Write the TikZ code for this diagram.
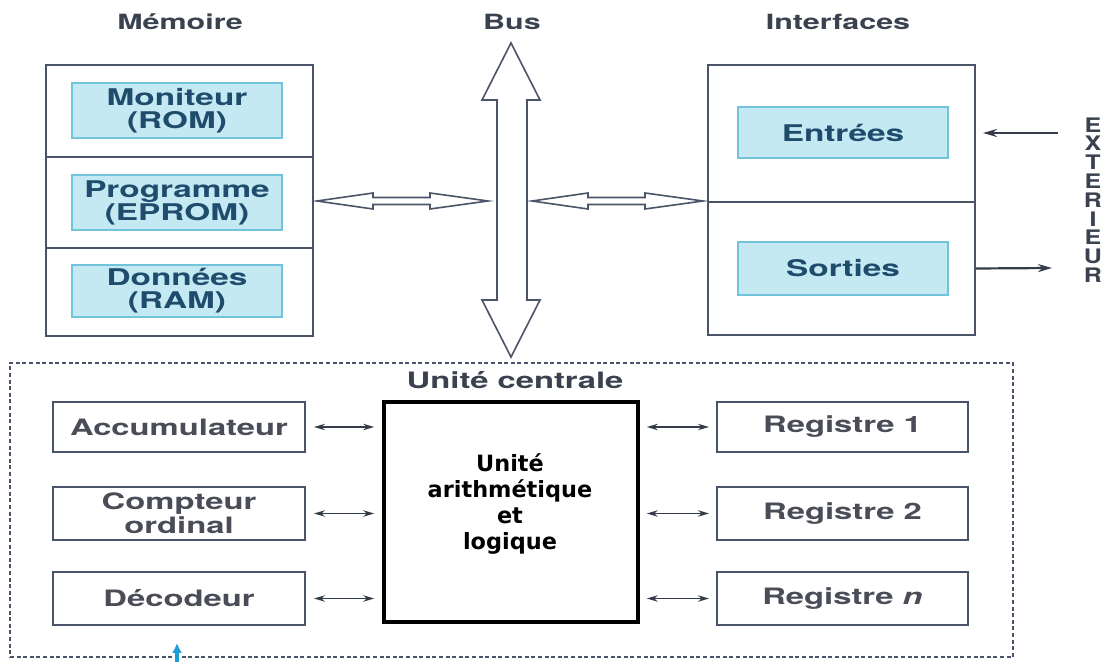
\documentclass[tikz,border=0pt]{standalone}
\usepackage{fontspec}
\usetikzlibrary{arrows.meta}
\newfontfamily\widesans[FakeStretch=1.45]{TeX Gyre Heros}
\newfontfamily\narrowsans[FakeStretch=1.25]{TeX Gyre Heros}
\newfontfamily\alufont{DejaVu Sans}
\definecolor{ink}{HTML}{4A5468}
\definecolor{labtext}{HTML}{3A4250}
\definecolor{boxtext}{HTML}{4A4C58}
\definecolor{cyanfill}{HTML}{C4E9F3}
\definecolor{cyanline}{HTML}{72C4DD}
\definecolor{cyantext}{HTML}{1F4B6C}
\definecolor{cyanarrow}{HTML}{1E9ED8}
\begin{document}
\begin{tikzpicture}[x=0.5pt,y=-0.5pt,
  frame/.style={draw=ink, line width=1pt, inner sep=0pt},
  cbox/.style={draw=cyanline, fill=cyanfill, line width=0.8pt, text=cyantext,
    font=\widesans\bfseries\fontsize{11.5}{11.5}\selectfont, align=center, inner sep=0pt},
  ubox/.style={draw=ink, line width=1pt, fill=white, text=boxtext,
    font=\widesans\bfseries\fontsize{11.3}{11.8}\selectfont, align=center, inner sep=0pt,
    minimum height=25pt},
  heading/.style={text=labtext, font=\widesans\bfseries\fontsize{10.5}{12}\selectfont},
  link/.style={draw=ink!70!black, line width=0.7pt,
    {Stealth[length=5.5pt,width=3.2pt]}-{Stealth[length=5.5pt,width=3.2pt]}},
  hollow/.style={draw=ink, line width=0.8pt, fill=white, line join=miter},
  extarrow/.style={draw=ink!70!black, line width=1.1pt, -{Stealth[length=7pt,width=4pt]}}
]
\fill[white] (0,0) rectangle (1104,662);
\useasboundingbox (0,0) rectangle (1104,662);

% headings
\node[heading] (hmem) at (180,22) {Mémoire};
\node[heading] (hbus) at (512,22) {Bus};
\node[heading] (hifc) at (838,22) {Interfaces};

% memory block
\node[frame, minimum width=133.5pt, minimum height=135.5pt] (mem) at (179.5,200.5) {};
\draw[ink, line width=1pt] (46,157) -- (313,157);
\draw[ink, line width=1pt] (46,248) -- (313,248);
\node[cbox, minimum width=105pt, minimum height=27.5pt] (rom) at (177,110.5) {Moniteur\\(ROM)};
\node[cbox, minimum width=105pt, minimum height=27.5pt] (eprom) at (177,202.5) {Programme\\(EPROM)};
\node[cbox, minimum width=105pt, minimum height=26pt] (ram) at (177,291) {Données\\(RAM)};

% interface block
\node[frame, minimum width=133.5pt, minimum height=135pt] (ifc) at (841.5,200) {};
\draw[ink, line width=1pt] (708,202) -- (975,202);
\node[cbox, minimum width=105pt, minimum height=25.5pt] (in) at (843,132.5) {Entrées};
\node[cbox, minimum width=105pt, minimum height=26.5pt] (out) at (843,268.5) {Sorties};

% outside world
\node[text=labtext, font=\narrowsans\bfseries\fontsize{10}{9.4}\selectfont, align=center, inner sep=0pt]
  (ext) at (1093,200) {E\\X\\T\\E\\R\\I\\E\\U\\R};
\coordinate (extin) at (1058,133);
\coordinate (extout) at (1052,268);
\draw[extarrow, shorten >=3.5pt] (extin) -- (extin -| ifc.east);
\draw[extarrow] (out -| ifc.east) -- (extout);

% bus
\draw[hollow] (511,43) -- (540,100) -- (527,100) -- (527,300) -- (540,300) -- (511,357)
  -- (482,300) -- (497,300) -- (497,100) -- (482,100) -- cycle;

% links memory <-> bus <-> interfaces
\draw[hollow] (317,201) -- ++(56,-8) -- ++(0,4.5) -- ++(57,0) -- ++(0,-4.5) -- ++(58,8)
  -- ++(-58,8) -- ++(0,-4.5) -- ++(-57,0) -- ++(0,4.5) -- cycle;
\draw[hollow] (532,201) -- ++(56,-8) -- ++(0,4.5) -- ++(57,0) -- ++(0,-4.5) -- ++(58,8)
  -- ++(-58,8) -- ++(0,-4.5) -- ++(-57,0) -- ++(0,4.5) -- cycle;

% central unit
\node[draw=ink, line width=0.8pt, dash pattern=on 2pt off 1.3pt, minimum width=501.5pt,
  minimum height=147pt, inner sep=0pt] (cpu) at (511.5,510) {};
\node[heading, font=\widesans\bfseries\fontsize{11.3}{12}\selectfont] (hcpu) at (515,380) {Unité centrale};

\node[draw=black, line width=1.8pt, minimum width=127pt, minimum height=110pt, inner sep=0pt] (alu) at (511,512) {};
\node[font=\alufont\bfseries\fontsize{11.2}{13}\selectfont, align=center, text=black] (alut) at (510,504)
  {Unité\\arithmétique\\et\\logique};

\node[ubox, minimum width=126pt] (acc) at (179,427) {Accumulateur};
\node[ubox, minimum width=126pt, minimum height=26.5pt] (pc) at (179,513.5) {Compteur\\ordinal};
\node[ubox, minimum width=126pt, minimum height=26.5pt] (dec) at (179,598.5) {Décodeur};

\node[ubox, minimum width=125.5pt] (r1) at (842.5,427) {Registre 1};
\node[ubox, minimum width=125.5pt, minimum height=26.5pt] (r2) at (842.5,513.5) {Registre 2};
\node[ubox, minimum width=125.5pt, minimum height=26.5pt] (rn) at (842.5,598.5) {Registre \textit{n}};

\draw[link, shorten <=4pt, shorten >=4pt] (acc.east) -- (acc.east -| alu.west);
\draw[link, shorten <=4pt, shorten >=4pt] (pc.east) -- (pc.east -| alu.west);
\draw[link, shorten <=4pt, shorten >=4pt] (dec.east) -- (dec.east -| alu.west);
\draw[link, shorten <=3.5pt, shorten >=3.5pt] (r1.west -| alu.east) -- (r1.west);
\draw[link, shorten <=3.5pt, shorten >=3.5pt] (r2.west -| alu.east) -- (r2.west);
\draw[link, shorten <=3.5pt, shorten >=3.5pt] (rn.west -| alu.east) -- (rn.west);

% small entry at the bottom edge
\coordinate (cb) at (177,662);
\coordinate (ct) at (177,643);
\draw[cyanarrow, line width=1.6pt, -{Latex[length=5pt,width=5pt]}] (cb) -- (ct);
\end{tikzpicture}
\end{document}
